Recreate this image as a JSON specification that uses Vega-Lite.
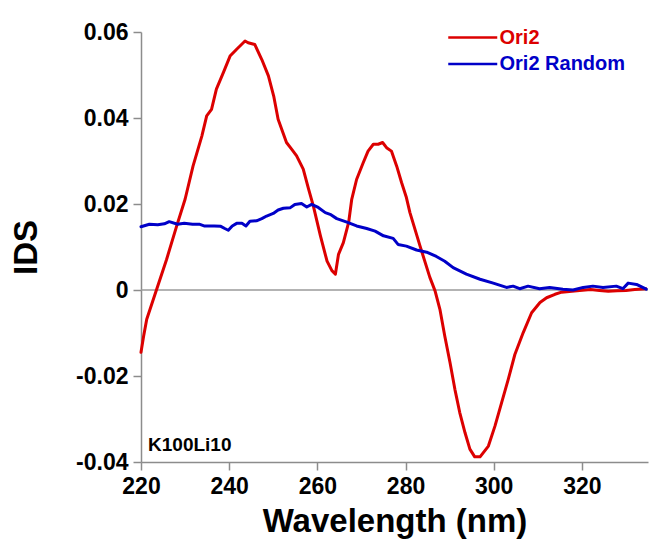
{
  "$schema": "https://vega.github.io/schema/vega-lite/v6.json",
  "width": 507,
  "height": 430,
  "autosize": "none",
  "padding": {"left": 141, "top": 32, "right": 8, "bottom": 90},
  "background": "white",
  "config": {
    "view": {"stroke": null},
    "font": "Liberation Sans",
    "axis": {
      "grid": false,
      "domainColor": "#8c8c8c",
      "domainWidth": 1.5,
      "tickColor": "#8c8c8c",
      "tickWidth": 1.5,
      "tickSize": 8,
      "labelFont": "Liberation Sans",
      "labelFontWeight": "bold",
      "labelFontSize": 23,
      "labelColor": "black",
      "labelFlush": false,
      "titleFont": "Liberation Sans",
      "titleFontWeight": "bold",
      "titleColor": "black"
    }
  },
  "datasets": {
    "curves": [
      {"wavelength": 220.0, "IDS": -0.0145, "series": "Ori2"},
      {"wavelength": 220.6, "IDS": -0.0107, "series": "Ori2"},
      {"wavelength": 221.3, "IDS": -0.0068, "series": "Ori2"},
      {"wavelength": 223.5, "IDS": 0.0, "series": "Ori2"},
      {"wavelength": 225.8, "IDS": 0.0071, "series": "Ori2"},
      {"wavelength": 228.1, "IDS": 0.0149, "series": "Ori2"},
      {"wavelength": 230.0, "IDS": 0.0211, "series": "Ori2"},
      {"wavelength": 231.8, "IDS": 0.0288, "series": "Ori2"},
      {"wavelength": 233.8, "IDS": 0.0358, "series": "Ori2"},
      {"wavelength": 234.9, "IDS": 0.0405, "series": "Ori2"},
      {"wavelength": 236.0, "IDS": 0.0420, "series": "Ori2"},
      {"wavelength": 237.1, "IDS": 0.0467, "series": "Ori2"},
      {"wavelength": 238.7, "IDS": 0.0506, "series": "Ori2"},
      {"wavelength": 240.2, "IDS": 0.0544, "series": "Ori2"},
      {"wavelength": 241.7, "IDS": 0.0560, "series": "Ori2"},
      {"wavelength": 243.6, "IDS": 0.0579, "series": "Ori2"},
      {"wavelength": 244.3, "IDS": 0.0575, "series": "Ori2"},
      {"wavelength": 245.8, "IDS": 0.0571, "series": "Ori2"},
      {"wavelength": 247.4, "IDS": 0.0536, "series": "Ori2"},
      {"wavelength": 248.9, "IDS": 0.0498, "series": "Ori2"},
      {"wavelength": 250.1, "IDS": 0.0451, "series": "Ori2"},
      {"wavelength": 251.1, "IDS": 0.0397, "series": "Ori2"},
      {"wavelength": 253.0, "IDS": 0.0343, "series": "Ori2"},
      {"wavelength": 254.2, "IDS": 0.0327, "series": "Ori2"},
      {"wavelength": 255.3, "IDS": 0.0312, "series": "Ori2"},
      {"wavelength": 256.8, "IDS": 0.0281, "series": "Ori2"},
      {"wavelength": 258.0, "IDS": 0.0235, "series": "Ori2"},
      {"wavelength": 259.1, "IDS": 0.0195, "series": "Ori2"},
      {"wavelength": 260.7, "IDS": 0.0126, "series": "Ori2"},
      {"wavelength": 262.2, "IDS": 0.0067, "series": "Ori2"},
      {"wavelength": 263.3, "IDS": 0.0045, "series": "Ori2"},
      {"wavelength": 264.1, "IDS": 0.0037, "series": "Ori2"},
      {"wavelength": 264.8, "IDS": 0.0083, "series": "Ori2"},
      {"wavelength": 265.9, "IDS": 0.0110, "series": "Ori2"},
      {"wavelength": 267.1, "IDS": 0.0157, "series": "Ori2"},
      {"wavelength": 267.8, "IDS": 0.0211, "series": "Ori2"},
      {"wavelength": 268.9, "IDS": 0.0257, "series": "Ori2"},
      {"wavelength": 270.4, "IDS": 0.0296, "series": "Ori2"},
      {"wavelength": 271.5, "IDS": 0.0323, "series": "Ori2"},
      {"wavelength": 272.7, "IDS": 0.0339, "series": "Ori2"},
      {"wavelength": 273.8, "IDS": 0.0339, "series": "Ori2"},
      {"wavelength": 274.8, "IDS": 0.0343, "series": "Ori2"},
      {"wavelength": 275.7, "IDS": 0.0331, "series": "Ori2"},
      {"wavelength": 276.8, "IDS": 0.0323, "series": "Ori2"},
      {"wavelength": 278.0, "IDS": 0.0288, "series": "Ori2"},
      {"wavelength": 279.1, "IDS": 0.0250, "series": "Ori2"},
      {"wavelength": 280.2, "IDS": 0.0215, "series": "Ori2"},
      {"wavelength": 281.0, "IDS": 0.0180, "series": "Ori2"},
      {"wavelength": 283.3, "IDS": 0.0102, "series": "Ori2"},
      {"wavelength": 285.5, "IDS": 0.0030, "series": "Ori2"},
      {"wavelength": 286.7, "IDS": -0.0002, "series": "Ori2"},
      {"wavelength": 287.8, "IDS": -0.0045, "series": "Ori2"},
      {"wavelength": 288.9, "IDS": -0.0107, "series": "Ori2"},
      {"wavelength": 290.1, "IDS": -0.0169, "series": "Ori2"},
      {"wavelength": 291.2, "IDS": -0.0231, "series": "Ori2"},
      {"wavelength": 292.3, "IDS": -0.0285, "series": "Ori2"},
      {"wavelength": 293.5, "IDS": -0.0332, "series": "Ori2"},
      {"wavelength": 294.6, "IDS": -0.0370, "series": "Ori2"},
      {"wavelength": 295.7, "IDS": -0.0388, "series": "Ori2"},
      {"wavelength": 296.9, "IDS": -0.0388, "series": "Ori2"},
      {"wavelength": 298.8, "IDS": -0.0363, "series": "Ori2"},
      {"wavelength": 300.3, "IDS": -0.0316, "series": "Ori2"},
      {"wavelength": 301.8, "IDS": -0.0262, "series": "Ori2"},
      {"wavelength": 303.3, "IDS": -0.0208, "series": "Ori2"},
      {"wavelength": 304.8, "IDS": -0.0150, "series": "Ori2"},
      {"wavelength": 306.7, "IDS": -0.0099, "series": "Ori2"},
      {"wavelength": 308.6, "IDS": -0.0053, "series": "Ori2"},
      {"wavelength": 310.5, "IDS": -0.0029, "series": "Ori2"},
      {"wavelength": 312.0, "IDS": -0.0018, "series": "Ori2"},
      {"wavelength": 313.9, "IDS": -0.0010, "series": "Ori2"},
      {"wavelength": 315.4, "IDS": -0.0005, "series": "Ori2"},
      {"wavelength": 319.5, "IDS": -0.0001, "series": "Ori2"},
      {"wavelength": 322.0, "IDS": 0.0001, "series": "Ori2"},
      {"wavelength": 324.0, "IDS": -0.0001, "series": "Ori2"},
      {"wavelength": 326.0, "IDS": -0.0003, "series": "Ori2"},
      {"wavelength": 328.0, "IDS": -0.0002, "series": "Ori2"},
      {"wavelength": 330.0, "IDS": -0.0001, "series": "Ori2"},
      {"wavelength": 332.0, "IDS": 0.0001, "series": "Ori2"},
      {"wavelength": 334.5, "IDS": 0.0003, "series": "Ori2"},
      {"wavelength": 220.0, "IDS": 0.0147, "series": "Ori2 Random"},
      {"wavelength": 221.9, "IDS": 0.0153, "series": "Ori2 Random"},
      {"wavelength": 223.8, "IDS": 0.0152, "series": "Ori2 Random"},
      {"wavelength": 225.3, "IDS": 0.0154, "series": "Ori2 Random"},
      {"wavelength": 226.4, "IDS": 0.0159, "series": "Ori2 Random"},
      {"wavelength": 228.3, "IDS": 0.0153, "series": "Ori2 Random"},
      {"wavelength": 229.8, "IDS": 0.0155, "series": "Ori2 Random"},
      {"wavelength": 231.7, "IDS": 0.0153, "series": "Ori2 Random"},
      {"wavelength": 233.2, "IDS": 0.0153, "series": "Ori2 Random"},
      {"wavelength": 234.3, "IDS": 0.0149, "series": "Ori2 Random"},
      {"wavelength": 236.6, "IDS": 0.0149, "series": "Ori2 Random"},
      {"wavelength": 238.1, "IDS": 0.0148, "series": "Ori2 Random"},
      {"wavelength": 239.0, "IDS": 0.0143, "series": "Ori2 Random"},
      {"wavelength": 239.8, "IDS": 0.0139, "series": "Ori2 Random"},
      {"wavelength": 240.7, "IDS": 0.0149, "series": "Ori2 Random"},
      {"wavelength": 241.7, "IDS": 0.0155, "series": "Ori2 Random"},
      {"wavelength": 242.9, "IDS": 0.0155, "series": "Ori2 Random"},
      {"wavelength": 243.8, "IDS": 0.0149, "series": "Ori2 Random"},
      {"wavelength": 244.7, "IDS": 0.0160, "series": "Ori2 Random"},
      {"wavelength": 246.2, "IDS": 0.0161, "series": "Ori2 Random"},
      {"wavelength": 247.4, "IDS": 0.0166, "series": "Ori2 Random"},
      {"wavelength": 248.5, "IDS": 0.0172, "series": "Ori2 Random"},
      {"wavelength": 250.0, "IDS": 0.0178, "series": "Ori2 Random"},
      {"wavelength": 251.1, "IDS": 0.0186, "series": "Ori2 Random"},
      {"wavelength": 252.3, "IDS": 0.0190, "series": "Ori2 Random"},
      {"wavelength": 253.8, "IDS": 0.0191, "series": "Ori2 Random"},
      {"wavelength": 254.9, "IDS": 0.0199, "series": "Ori2 Random"},
      {"wavelength": 256.4, "IDS": 0.0201, "series": "Ori2 Random"},
      {"wavelength": 257.6, "IDS": 0.0193, "series": "Ori2 Random"},
      {"wavelength": 258.7, "IDS": 0.0199, "series": "Ori2 Random"},
      {"wavelength": 260.2, "IDS": 0.0192, "series": "Ori2 Random"},
      {"wavelength": 261.8, "IDS": 0.0180, "series": "Ori2 Random"},
      {"wavelength": 262.9, "IDS": 0.0176, "series": "Ori2 Random"},
      {"wavelength": 264.4, "IDS": 0.0166, "series": "Ori2 Random"},
      {"wavelength": 266.7, "IDS": 0.0158, "series": "Ori2 Random"},
      {"wavelength": 268.9, "IDS": 0.0149, "series": "Ori2 Random"},
      {"wavelength": 271.2, "IDS": 0.0143, "series": "Ori2 Random"},
      {"wavelength": 273.1, "IDS": 0.0137, "series": "Ori2 Random"},
      {"wavelength": 275.0, "IDS": 0.0126, "series": "Ori2 Random"},
      {"wavelength": 277.2, "IDS": 0.0120, "series": "Ori2 Random"},
      {"wavelength": 278.3, "IDS": 0.0106, "series": "Ori2 Random"},
      {"wavelength": 280.2, "IDS": 0.0102, "series": "Ori2 Random"},
      {"wavelength": 282.5, "IDS": 0.0093, "series": "Ori2 Random"},
      {"wavelength": 284.8, "IDS": 0.0088, "series": "Ori2 Random"},
      {"wavelength": 287.0, "IDS": 0.0078, "series": "Ori2 Random"},
      {"wavelength": 288.9, "IDS": 0.0067, "series": "Ori2 Random"},
      {"wavelength": 290.8, "IDS": 0.0052, "series": "Ori2 Random"},
      {"wavelength": 293.8, "IDS": 0.0037, "series": "Ori2 Random"},
      {"wavelength": 296.9, "IDS": 0.0025, "series": "Ori2 Random"},
      {"wavelength": 299.9, "IDS": 0.0016, "series": "Ori2 Random"},
      {"wavelength": 302.9, "IDS": 0.0006, "series": "Ori2 Random"},
      {"wavelength": 304.4, "IDS": 0.0009, "series": "Ori2 Random"},
      {"wavelength": 305.9, "IDS": 0.0003, "series": "Ori2 Random"},
      {"wavelength": 307.8, "IDS": 0.0009, "series": "Ori2 Random"},
      {"wavelength": 310.4, "IDS": 0.0003, "series": "Ori2 Random"},
      {"wavelength": 312.7, "IDS": 0.0006, "series": "Ori2 Random"},
      {"wavelength": 315.7, "IDS": 0.0002, "series": "Ori2 Random"},
      {"wavelength": 318.0, "IDS": 0.0000, "series": "Ori2 Random"},
      {"wavelength": 320.3, "IDS": 0.0006, "series": "Ori2 Random"},
      {"wavelength": 322.5, "IDS": 0.0009, "series": "Ori2 Random"},
      {"wavelength": 324.8, "IDS": 0.0006, "series": "Ori2 Random"},
      {"wavelength": 327.8, "IDS": 0.0009, "series": "Ori2 Random"},
      {"wavelength": 329.3, "IDS": 0.0003, "series": "Ori2 Random"},
      {"wavelength": 330.5, "IDS": 0.0016, "series": "Ori2 Random"},
      {"wavelength": 332.4, "IDS": 0.0013, "series": "Ori2 Random"},
      {"wavelength": 334.6, "IDS": 0.0002, "series": "Ori2 Random"}
    ],
    "zero": [{"IDS": 0}],
    "note": [{"wavelength": 221.6, "IDS": -0.0374, "label": "K100Li10"}]
  },
  "layer": [
    {
      "data": {"name": "zero"},
      "mark": {"type": "rule", "color": "#9a9a9a", "strokeWidth": 1.5},
      "encoding": {
        "y": {"field": "IDS", "type": "quantitative", "scale": {"domain": [-0.04, 0.06], "nice": false, "zero": false}}
      }
    },
    {
      "data": {"name": "curves"},
      "mark": {"type": "line", "strokeWidth": 3, "strokeJoin": "round", "strokeCap": "round"},
      "encoding": {
        "x": {
          "field": "wavelength", "type": "quantitative",
          "scale": {"domain": [220, 335], "nice": false, "zero": false},
          "axis": {"values": [220, 240, 260, 280, 300, 320], "title": "Wavelength (nm)", "titleFontSize": 33, "labelPadding": 5, "titlePadding": 7}
        },
        "y": {
          "field": "IDS", "type": "quantitative",
          "scale": {"domain": [-0.04, 0.06], "nice": false, "zero": false},
          "axis": {
            "values": [-0.04, -0.02, 0, 0.02, 0.04, 0.06],
            "labelExpr": "datum.value == 0 ? '0' : (datum.value < 0 ? '-' : '') + format(abs(datum.value), '.2f')",
            "title": "IDS", "titleFontSize": 33, "labelPadding": 5, "titlePadding": 32
          }
        },
        "color": {
          "field": "series", "type": "nominal",
          "scale": {"domain": ["Ori2", "Ori2 Random"], "range": ["#dc0000", "#0000c8"]},
          "legend": {
            "title": null,
            "orient": "none",
            "legendX": 306,
            "legendY": -8,
            "symbolType": "M-1,0H3",
            "symbolSize": 600,
            "symbolStrokeWidth": 2.5,
            "labelFont": "Liberation Sans",
            "labelFontSize": 20,
            "labelFontWeight": "bold",
            "labelOffset": 25.5,
            "rowPadding": 2.5,
            "encode": {
              "labels": {"update": {"fill": {"signal": "datum.value === 'Ori2' ? '#dc0000' : '#0000c8'"}}}
            }
          }
        }
      }
    },
    {
      "data": {"name": "note"},
      "mark": {"type": "text", "align": "left", "baseline": "alphabetic", "font": "Liberation Sans", "fontWeight": "bold", "fontSize": 19, "color": "black"},
      "encoding": {
        "x": {"field": "wavelength", "type": "quantitative"},
        "y": {"field": "IDS", "type": "quantitative"},
        "text": {"field": "label"}
      }
    }
  ]
}
